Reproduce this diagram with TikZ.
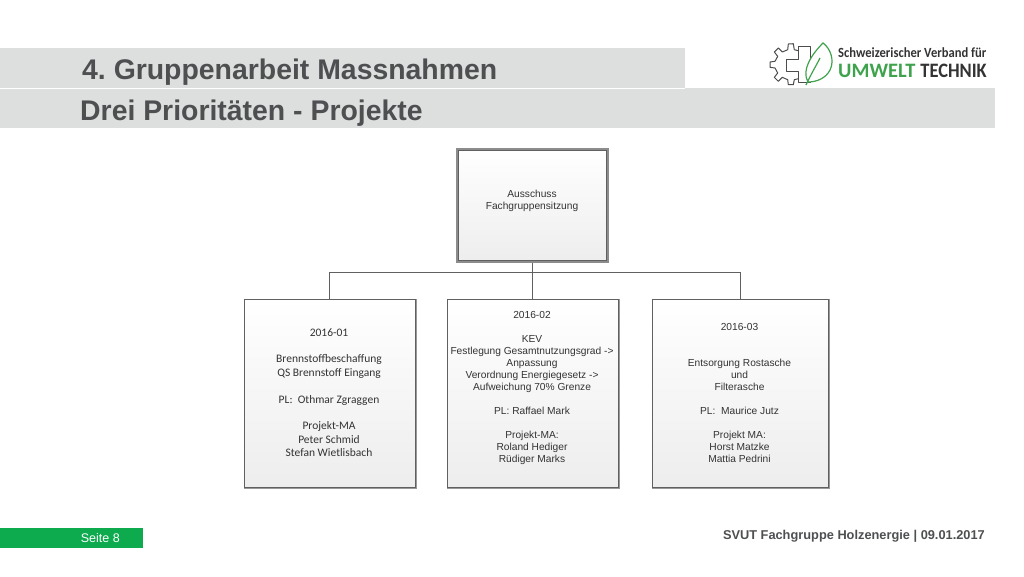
\documentclass[tikz,border=0pt]{standalone}
\usepackage{fontspec}
\setmainfont{Liberation Sans}
\newfontfamily\calfont{Carlito}
\newfontfamily\verbandfont[FakeStretch=0.9]{Carlito}
\newfontfamily\technikfont[FakeStretch=0.9]{Carlito}
\definecolor{bandgray}{HTML}{DDDEDE}
\definecolor{titlegray}{HTML}{4D4F51}
\definecolor{seitegreen}{HTML}{0DAB4D}
\definecolor{leafgreen}{HTML}{3FA34D}
\definecolor{boxline}{HTML}{606060}
\tikzset{
    band/.style={fill=bandgray,draw=none},
    titletext/.style={anchor=west,text=titlegray,font=\fontsize{28.4}{32}\selectfont\bfseries,inner sep=0pt},
    probox/.style={draw=boxline,line width=0.9pt,top color=white,bottom color=black!7,inner sep=0pt},
    boxshadow/.style={draw=black!40,line width=1.2pt},
    protext/.style={align=center,inner sep=0pt,text=black!80,font=\fontsize{10.2}{12}\selectfont},
    conn/.style={draw=boxline,line width=0.9pt},
    logoline/.style={draw=black!70,line width=1pt,line join=round},
  }
\frenchspacing
\begin{document}
\begin{tikzpicture}[x=1pt,y=-1pt]
  \useasboundingbox (0,0) rectangle (1024,576);
  %KOPF
  \fill[band] (0,48) rectangle (685,88);
  \fill[band] (0,88) rectangle (995,128);
  \draw[white,line width=0.4pt] (0,88) -- (685,88);
  \node[titletext] (titel) at (82,72) {4. Gruppenarbeit Massnahmen};
  \node[titletext] (untertitel) at (80,113) {Drei Prioritäten - Projekte};
  %LOGO
  \draw[logoline] (798.3,50.7) -- (794.3,49.7) -- (793.3,43.7) -- (788.3,44) -- (787.7,49.7) -- (782.3,52)
    -- (778.3,48) -- (774.3,52) -- (777.7,56.3) -- (775,61.3) -- (770,62) -- (770,67.3) -- (775,68)
    -- (777.7,73) -- (774.3,77.3) -- (778.3,81.3) -- (782.3,77.3) -- (787.7,79.7) -- (788.3,84.7)
    -- (793.3,84.7) -- (794.3,79.7) -- (798.3,78.7);
  \draw[logoline] (818,59.5) -- (810,59.5) -- (810,46) -- (798,46) -- (798,59.5) -- (786,59.5) -- (786,71.5)
    -- (798,71.5) -- (798,82) -- (810,82) -- (810,71.5) -- (818,71.5);
  \draw[draw=leafgreen,line width=1.2pt,fill=white] (808,82) .. controls (801,70) and (812,54) .. (823,43)
    .. controls (830,48) and (835,60) .. (830,70) .. controls (826,78) and (817,82) .. (808,82)
    (806,85) .. controls (811,74) and (816,66) .. (820,58);
  \node[anchor=west,inner sep=0pt,text=black!80,font=\verbandfont\bfseries\fontsize{14}{15}\selectfont] (verband) at (838,53) {Schweizerischer Verband für};
  \node[anchor=west,inner sep=0pt,text=leafgreen,font=\calfont\bfseries\fontsize{20.5}{22}\selectfont] (umwelt) at (838,71) {UMWELT};
  \node[anchor=east,inner sep=0pt,text=black!80,font=\technikfont\bfseries\fontsize{20.5}{22}\selectfont] (technik) at (987,71) {TECHNIK};
  %AUSSCHUSS
  \node[probox,draw=black!45,line width=2.6pt,minimum width=150pt,minimum height=113pt] (aus) at (532.5,205.5) {};
  \draw[draw=boxline,line width=0.7pt] ([shift={(2.5pt,2.5pt)}]aus.south west) rectangle ([shift={(-2.5pt,-2.5pt)}]aus.north east);
  \node[protext] (austext) at (532,201) {Ausschuss\\Fachgruppensitzung};
  %PROJEKTE
  \node[probox,minimum width=171pt,minimum height=188pt] (pa) at (329.5,393) {};
  \node[probox,minimum width=171pt,minimum height=188pt] (pb) at (532.5,393) {};
  \node[probox,minimum width=176pt,minimum height=188pt] (pc) at (740,393) {};
  \foreach \n in {pa,pb,pc}
    \draw[boxshadow] ([shift={(1pt,0pt)}]\n.north east) -- ([shift={(1pt,-1pt)}]\n.south east) -- ([shift={(0pt,-1pt)}]\n.south west);
  \node[protext,font=\calfont\fontsize{11.5}{13.35}\selectfont] (patext) at (329,392.5)
    {2016-01\\[13.35pt]Brennstoffbeschaffung\\QS Brennstoff Eingang\\[13.35pt]PL:\ \ Othmar Zgraggen\\[13.35pt]Projekt-MA\\Peter Schmid\\Stefan Wietlisbach};
  \node[protext] (pbtext) at (532,387.5)
    {2016-02\\[12pt]KEV\\Festlegung Gesamtnutzungsgrad ->\\Anpassung\\Verordnung Energiegesetz ->\\Aufweichung 70\% Grenze\\[12pt]PL: Raffael Mark\\[12pt]Projekt-MA:\\Roland Hediger\\Rüdiger Marks};
  \node[protext] (pctext) at (739.5,392.5)
    {2016-03\\[24pt]Entsorgung Rostasche\\und\\Filterasche\\[12pt]PL:\ \ Maurice Jutz\\[12pt]Projekt MA:\\Horst Matzke\\Mattia Pedrini};
  %VERBINDUNGEN
  \coordinate (bus) at (aus.south |- 0,272);
  \draw[conn,line width=1.3pt] (aus.south) -- (pb.north);
  \draw[conn] (pa.north) |- (bus);
  \draw[conn] (pc.north) |- (bus);
  %FUSS
  \fill[seitegreen] (0,528) rectangle (143,548);
  \node[anchor=east,inner sep=0pt,text=white,font=\fontsize{12.5}{14}\selectfont] (seite) at (120,538.5) {Seite 8};
  \node[anchor=east,inner sep=0pt,text=titlegray,font=\fontsize{12.8}{14}\selectfont\bfseries] (fuss) at (985,536.5) {SVUT Fachgruppe Holzenergie | 09.01.2017};
\end{tikzpicture}
\end{document}
